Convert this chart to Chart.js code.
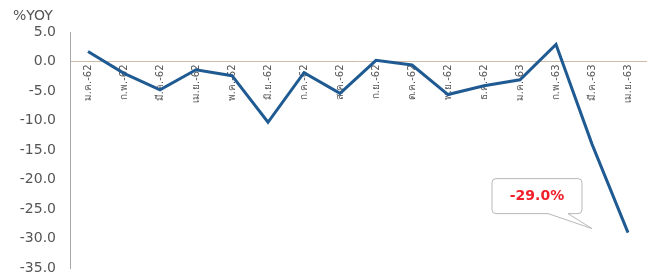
<!DOCTYPE html>
<html>
<head>
<meta charset="utf-8">
<script src="https://cdn.jsdelivr.net/npm/chart.js@4/dist/chart.umd.min.js"></script>
<style>
  html, body { margin: 0; padding: 0; background: #fff; }
  #wrap { width: 664px; height: 273px; position: relative; }
</style>
</head>
<body>
<div id="wrap"><canvas id="yoyChart"></canvas></div>
<script>
// Monthly %YOY
const months = ['ม.ค.-62', 'ก.พ.-62', 'มี.ค.-62', 'เม.ย.-62', 'พ.ค.-62', 'มิ.ย.-62', 'ก.ค.-62', 'ส.ค.-62',
  'ก.ย.-62', 'ต.ค.-62', 'พ.ย.-62', 'ธ.ค.-62', 'ม.ค.-63', 'ก.พ.-63', 'มี.ค.-63', 'เม.ย.-63'];
const yoyValues = [1.7, -2.0, -4.8, -1.4, -2.4, -10.3, -1.9, -5.4, 0.2, -0.6, -5.6, -4.1, -3.1, 2.9, -14.0, -29.0];
const yTicks = [5, 0, -5, -10, -15, -20, -25, -30, -35];
const calloutText = '-29.0%';

// title + callout on the last point
const extras = {
  id: 'extras',
  afterDraw(chart) {
    const ctx = chart.ctx;
    ctx.save();
    ctx.fillStyle = '#555';
    ctx.font = '14px "DejaVu Sans"';
    ctx.textBaseline = 'top';
    ctx.fillText('%YOY', 13, 9);

    const pt = chart.getDatasetMeta(0).data[yoyValues.length - 1];
    const px = pt.x, py = pt.y;
    const bx = px - 136, by = py - 54, bw = 90, bh = 35, r = 4;
    ctx.beginPath();
    ctx.moveTo(bx + r, by);
    ctx.lineTo(bx + bw - r, by);
    ctx.quadraticCurveTo(bx + bw, by, bx + bw, by + r);
    ctx.lineTo(bx + bw, by + bh - r);
    ctx.quadraticCurveTo(bx + bw, by + bh, bx + bw - r, by + bh);
    ctx.lineTo(bx + bw - 14, by + bh);
    ctx.lineTo(px - 36, py - 4);
    ctx.lineTo(bx + bw - 34, by + bh);
    ctx.lineTo(bx + r, by + bh);
    ctx.quadraticCurveTo(bx, by + bh, bx, by + bh - r);
    ctx.lineTo(bx, by + r);
    ctx.quadraticCurveTo(bx, by, bx + r, by);
    ctx.closePath();
    ctx.fillStyle = '#fff';
    ctx.fill();
    ctx.strokeStyle = '#b8b8b8';
    ctx.lineWidth = 1;
    ctx.stroke();
    ctx.fillStyle = '#f0202a';
    ctx.font = 'bold 14px "DejaVu Sans"';
    ctx.textAlign = 'center';
    ctx.textBaseline = 'middle';
    ctx.fillText(calloutText, bx + bw / 2, by + bh / 2);
    ctx.restore();
  }
};

new Chart(document.getElementById('yoyChart').getContext('2d'), {
  type: 'line',
  data: {
    labels: months,
    datasets: [{
      data: yoyValues,
      borderColor: '#1f5b92',
      borderWidth: 3,
      pointRadius: 0,
      tension: 0,
      fill: false
    }]
  },
  options: {
    responsive: true,
    maintainAspectRatio: false,
    animation: false,
    layout: { padding: { top: 32, right: 18, bottom: 5, left: 0 } },
    plugins: { legend: { display: false }, tooltip: { enabled: false } },
    scales: {
      x: {
        position: { y: 0 },
        offset: true,
        afterFit(scale) { scale.height = 0; },
        grid: { display: false, drawTicks: false },
        border: { color: '#cdbba8', width: 1 },
        ticks: {
          minRotation: 90,
          maxRotation: 90,
          padding: 3,
          color: '#555',
          font: { size: 10, family: 'DejaVu Sans' }
        }
      },
      y: {
        min: -35,
        max: 5,
        afterFit(scale) {
          scale.width = 70;
          scale.paddingTop = 0;
          scale.paddingBottom = 0;
        },
        afterBuildTicks(scale) { scale.ticks = yTicks.map(v => ({ value: v })); },
        grid: { display: false, drawTicks: false },
        border: { color: '#a8a8a8', width: 1 },
        ticks: {
          padding: 14,
          color: '#555',
          font: { size: 14, family: 'DejaVu Sans' },
          callback: v => v.toFixed(1)
        }
      }
    }
  },
  plugins: [extras]
});
</script>
</body>
</html>
